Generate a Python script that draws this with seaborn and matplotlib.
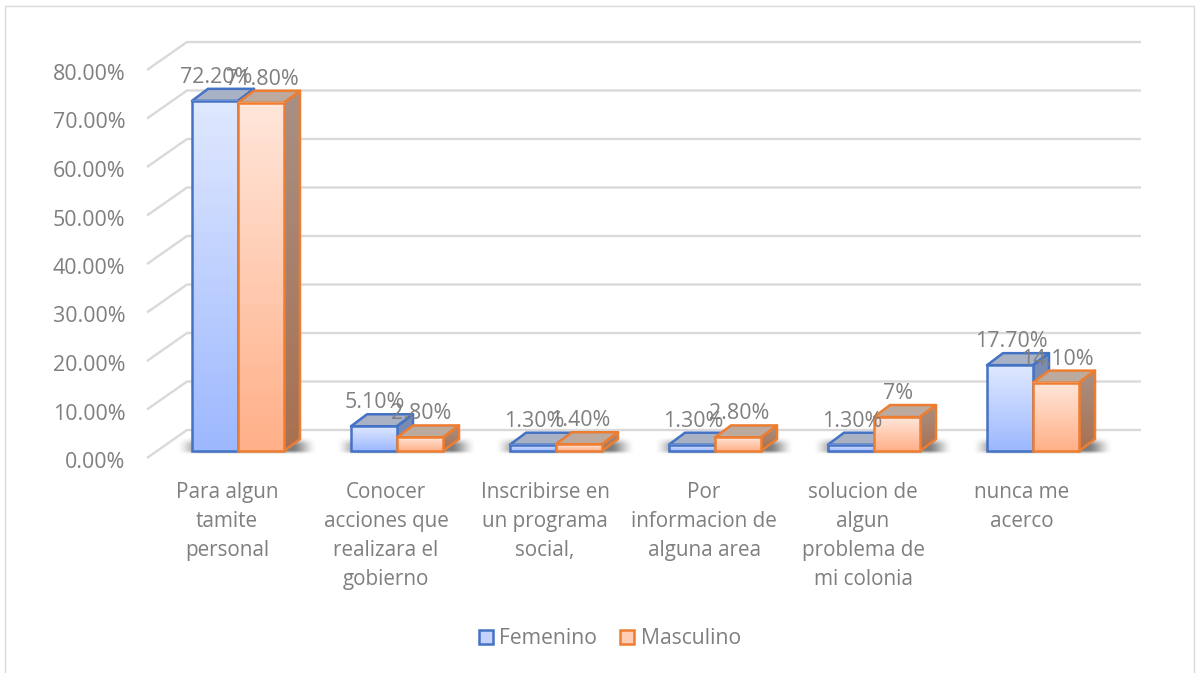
# Barras 3D: motivo de acercamiento por sexo

import numpy as np
import pandas as pd
import matplotlib
matplotlib.use('Agg')
import matplotlib.pyplot as plt
import seaborn as sns
from matplotlib.colors import LinearSegmentedColormap
from matplotlib.patches import Patch, Polygon, Rectangle
from matplotlib.transforms import ScaledTranslation

categorias = ['Para algun\ntamite\npersonal', 'Conocer\nacciones que\nrealizara el\ngobierno',
              'Inscribirse en\nun programa\nsocial,', 'Por\ninformacion de\nalguna area',
              'solucion de\nalgun\nproblema de\nmi colonia', 'nunca me\nacerco']
femenino = [72.2, 5.1, 1.3, 1.3, 1.3, 17.7]
masculino = [71.8, 2.8, 1.4, 2.8, 7.0, 14.1]
etiquetas_f = ['72.20%', '5.10%', '1.30%', '1.30%', '1.30%', '17.70%']
etiquetas_m = ['71.80%', '2.80%', '1.40%', '2.80%', '7%', '14.10%']
ticks_y = [0, 10, 20, 30, 40, 50, 60, 70, 80]

sns.set_theme(style='white')
plt.rcParams['font.family'] = ['Open Sans', 'DejaVu Sans']

df = pd.DataFrame({
    'categoria': categorias * 2,
    'valor': femenino + masculino,
    'sexo': ['Femenino'] * 6 + ['Masculino'] * 6,
})

GRIS = '#7f7f7f'
FUENTE = 15.4
W, H = 1200, 673
PX_X = 159.0    # pixeles por categoria
PX_Y = 4.85     # pixeles por punto porcentual

fig = plt.figure(figsize=(12, 6.73), dpi=100)
fig.patch.set_facecolor('white')
ax = fig.add_axes([147 / W, 1 - 458 / H, (1141 - 147) / W, (458 - 42) / H])

sns.barplot(data=df, x='categoria', y='valor', hue='sexo', order=categorias,
            hue_order=['Femenino', 'Masculino'], palette=['#C5D3FC', '#FFCDB4'],
            width=46 * 2 / PX_X, gap=0, legend=False, ax=ax, zorder=4)

# profundidad de las barras y del piso
dx, dy = 16 / PX_X, 12 / PX_Y
piso_dx, piso_dy = 40 / PX_X, 28 / PX_Y
piso_y = -7 / PX_Y
x_izq, x_der = (147 - 238) / PX_X, (1141 - 238) / PX_X

# rejilla: pared del fondo y diagonal del piso
for t in ticks_y:
    ax.plot([x_izq, x_izq + piso_dx, x_der], [t + piso_y, t + piso_y + piso_dy, t + piso_y + piso_dy],
            color='#d9d9d9', lw=1.7, zorder=1, solid_capstyle='butt', clip_on=False)

colores = {
    0: dict(borde='#4472c4', cara=['#9db8ff', '#dfe8fe'], lado=['#6f88bd', '#7c8cb0'], tapa='#a9b1c4'),
    1: dict(borde='#ed7d31', cara=['#ffb088', '#ffe6da'], lado=['#a87050', '#a89084'], tapa='#bdaa9e'),
}
grad = np.linspace(0, 1, 64).reshape(-1, 1)
n = len(categorias)
barras = list(ax.patches)


def rampa(v):
    v = np.clip(v, 0, 1)
    return v * v * (3 - 2 * v)


# sombra difusa en el piso
for i in range(n):
    izq = barras[i].get_x()
    der = barras[i + n].get_x() + barras[i + n].get_width()
    ancho_px = (der - izq) * PX_X
    px = np.arange(-18, ancho_px + 38)
    py = np.arange(-5, 17)
    sx = rampa((px + 16) / 28) * rampa((ancho_px + 34 - px) / 26)
    sy = rampa((py + 4) / 5) * rampa((15 - py) / 10)
    alfa = 0.68 * np.outer(sy, sx)
    rgba = np.zeros(alfa.shape + (4,))
    rgba[..., :3] = 0.25
    rgba[..., 3] = alfa
    ax.imshow(rgba, origin='lower', aspect='auto', interpolation='bilinear', zorder=2,
              extent=(izq + px[0] / PX_X, izq + px[-1] / PX_X, py[0] / PX_Y, py[-1] / PX_Y))

for j in range(2):
    c = colores[j]
    z = 3 + j * 2
    cm_cara = LinearSegmentedColormap.from_list(f'cara{j}', c['cara'])
    cm_lado = LinearSegmentedColormap.from_list(f'lado{j}', c['lado'])
    for i in range(n):
        b = barras[i + j * n]
        x0, ancho, alto = b.get_x(), b.get_width(), b.get_height()
        x1 = x0 + ancho
        # cara lateral
        lado = Polygon([(x1, 0), (x1 + dx, dy), (x1 + dx, alto + dy), (x1, alto)], closed=True,
                       fc='none', ec=c['borde'], lw=1.8, zorder=z + 0.2, joinstyle='round')
        im = ax.imshow(grad, origin='lower', cmap=cm_lado, aspect='auto',
                       extent=(x1, x1 + dx, 0, alto + dy), zorder=z)
        ax.add_patch(lado)
        im.set_clip_path(lado)
        # tapa
        ax.add_patch(Polygon([(x0, alto), (x1, alto), (x1 + dx, alto + dy), (x0 + dx, alto + dy)], closed=True,
                             fc=c['tapa'], ec=c['borde'], lw=1.8, zorder=z + 0.1, joinstyle='round'))
        # cara frontal con degradado
        ax.imshow(grad, origin='lower', cmap=cm_cara, aspect='auto',
                  extent=(x0, x1, 0, alto), zorder=z + 0.5)
        b.set_facecolor('none')
        b.set_edgecolor(c['borde'])
        b.set_linewidth(1.8)
        b.set_zorder(z + 0.6)

# etiquetas de datos
for j, etiquetas in enumerate([etiquetas_f, etiquetas_m]):
    for i, txt in enumerate(etiquetas):
        b = barras[i + j * n]
        ax.text(b.get_x() + b.get_width() / 2 + 1 / PX_X, b.get_height() + dy + 1 / PX_Y, txt,
                ha='center', va='bottom', fontsize=FUENTE, color=GRIS, zorder=10, clip_on=False)

ax.set_xlim(x_izq, x_der)
ax.set_ylim(piso_y, (451 - 42) / PX_Y)
ax.set_xlabel('')
ax.set_ylabel('')
sns.despine(ax=ax, left=True, bottom=True)
ax.grid(False)
ax.patch.set_alpha(0)

ax.set_yticks(ticks_y)
ax.set_yticklabels([f'{t:.2f}%' for t in ticks_y])
ax.set_xticks(np.arange(n) - 11 / PX_X)
ax.set_xticklabels(categorias, linespacing=1.5)
ax.tick_params(axis='y', length=0, pad=15.5, labelsize=FUENTE, labelcolor=GRIS)
ax.tick_params(axis='x', length=0, pad=17.5, labelsize=14.9, labelcolor=GRIS)

# las etiquetas del eje y van al frente del piso
baja = ScaledTranslation(0, (piso_y * PX_Y - 2) / 100, fig.dpi_scale_trans)
for lbl in ax.get_yticklabels():
    lbl.set_transform(lbl.get_transform() + baja)

handles = [Patch(facecolor='#c5d3fc', edgecolor='#4472c4', lw=1.8, label='Femenino'),
           Patch(facecolor='#ffcdb4', edgecolor='#ed7d31', lw=1.8, label='Masculino')]
fig.legend(handles=handles, loc='center', bbox_to_anchor=(610 / W, 1 - 639 / H), ncol=2, frameon=False,
           fontsize=15.2, labelcolor=GRIS, handlelength=0.65, handleheight=0.65,
           handletextpad=0.3, columnspacing=1.1)

# marco del grafico
fig.add_artist(Rectangle((5 / W, -0.02), (1194 - 5) / W, 1.02 - 6 / H, transform=fig.transFigure,
                         fc='none', ec='#d9d9d9', lw=1))

plt.savefig('out.png', dpi=100)
